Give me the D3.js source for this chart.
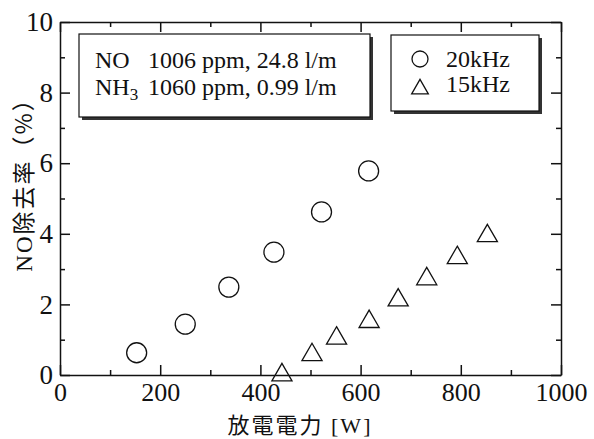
<!DOCTYPE html>
<html>
<head>
<meta charset="utf-8">
<script src="https://cdn.jsdelivr.net/npm/d3@7"></script>
<style>
  body { margin: 0; background: #fff; }
  svg { display: block; }
</style>
</head>
<body>
<div id="chart"></div>
<script>
(function() {

  // 20kHz series
  var power20 = [153, 250, 337, 427, 522, 616];
  var removal20 = [0.63, 1.44, 2.49, 3.48, 4.62, 5.78];
  // 15kHz series
  var power15 = [443, 503, 552, 617, 675, 732, 793, 853];
  var removal15 = [0.0, 0.57, 1.04, 1.51, 2.12, 2.72, 3.32, 3.94];

  var xTicks = [0, 200, 400, 600, 800, 1000];
  var yTicks = [0, 2, 4, 6, 8, 10];
  var xMinor = [100, 300, 500, 700, 900];
  var yMinor = [1, 3, 5, 7, 9];

  var serif = "Liberation Serif";
  var cjk = "Noto Sans CJK JP";
  var ink = "#111";

  var width = 594, height = 439;
  var pad = { top: 22, left: 60, right: 33, bottom: 64 };

  var svg = d3.select("#chart").append("svg")
    .attr("width", width)
    .attr("height", height);

  var x = d3.scaleLinear().domain([0, 1000]).range([pad.left, width - pad.right]);
  var y = d3.scaleLinear().domain([0, 10]).range([height - pad.bottom, pad.top]);

  var bottom = height - pad.bottom, right = width - pad.right;

  var styleAxis = function(g) {
    g.attr("font-family", serif).attr("font-size", 27);
    g.selectAll(".domain, .tick line").attr("stroke", ink).attr("stroke-width", 1.5);
    g.selectAll(".tick text").attr("fill", ink);
  };

  // main axes, ticks pointing inward
  svg.append("g")
    .attr("transform", "translate(0," + bottom + ")")
    .call(d3.axisBottom(x).tickValues(xTicks).tickFormat(d3.format("d"))
      .tickSizeInner(-10).tickSizeOuter(0).tickPadding(8))
    .call(styleAxis)
    .attr("font-size", 26);
  svg.append("g")
    .attr("transform", "translate(" + pad.left + ",0)")
    .call(d3.axisLeft(y).tickValues(yTicks).tickFormat(d3.format("d"))
      .tickSizeInner(-10).tickSizeOuter(0).tickPadding(7))
    .call(styleAxis);
  svg.append("g")
    .attr("transform", "translate(0," + pad.top + ")")
    .call(d3.axisTop(x).tickValues(xTicks).tickSizeInner(-10).tickSizeOuter(0).tickFormat(""))
    .call(styleAxis);
  svg.append("g")
    .attr("transform", "translate(" + right + ",0)")
    .call(d3.axisRight(y).tickValues(yTicks).tickSizeInner(-10).tickSizeOuter(0).tickFormat(""))
    .call(styleAxis);

  // minor ticks
  var minor = function(axis, tr) {
    var g = svg.append("g").attr("transform", tr)
      .call(axis.tickSizeInner(-5).tickSizeOuter(0).tickFormat(""))
      .call(styleAxis);
    g.select(".domain").remove();
  };
  minor(d3.axisBottom(x).tickValues(xMinor), "translate(0," + bottom + ")");
  minor(d3.axisTop(x).tickValues(xMinor), "translate(0," + pad.top + ")");
  minor(d3.axisLeft(y).tickValues(yMinor), "translate(" + pad.left + ",0)");
  minor(d3.axisRight(y).tickValues(yMinor), "translate(" + right + ",0)");

  // axis titles: Latin parts serif, Japanese parts from the CJK font
  var xt = svg.append("text")
    .attr("x", 300)
    .attr("y", 433)
    .attr("text-anchor", "middle")
    .attr("fill", ink)
    .attr("font-size", 22)
    .attr("letter-spacing", 2);
  xt.append("tspan").attr("font-family", cjk).text("放電電力");
  xt.append("tspan").attr("font-family", serif).text(" [W]");

  var yt = svg.append("text")
    .attr("transform", "translate(32,179) rotate(-90)")
    .attr("text-anchor", "middle")
    .attr("fill", ink)
    .attr("font-size", 23)
    .attr("letter-spacing", 2);
  yt.append("tspan").attr("font-family", serif).text("NO");
  yt.append("tspan").attr("font-family", cjk).text("除去率（%）");

  // data
  var pts20 = power20.map(function(p, i) { return [p, removal20[i]]; });
  var pts15 = power15.map(function(p, i) { return [p, removal15[i]]; });

  svg.append("g").selectAll("circle")
    .data(pts20).enter().append("circle")
    .attr("cx", function(d) { return x(d[0]); })
    .attr("cy", function(d) { return y(d[1]); })
    .attr("r", 10)
    .attr("fill", "none")
    .attr("stroke", ink)
    .attr("stroke-width", 1.3);

  var tri = d3.symbol().type(d3.symbolTriangle).size(175);
  svg.append("g").selectAll("path")
    .data(pts15).enter().append("path")
    .attr("transform", function(d) { return "translate(" + x(d[0]) + "," + y(d[1]) + ")"; })
    .attr("d", tri)
    .attr("fill", "none")
    .attr("stroke", ink)
    .attr("stroke-width", 1.3);

  // boxes with drop shadow
  var box = function(x0, y0, w, h) {
    svg.append("rect").attr("x", x0 + 3).attr("y", y0 + 3).attr("width", w).attr("height", h)
      .attr("fill", "#333");
    svg.append("rect").attr("x", x0).attr("y", y0).attr("width", w).attr("height", h)
      .attr("fill", "#fff").attr("stroke", ink).attr("stroke-width", 1.2);
  };
  box(79, 34, 291, 83);
  box(391, 35, 148, 76);

  var leg = svg.append("g")
    .attr("font-family", serif)
    .attr("font-size", 24)
    .attr("fill", ink);
  leg.append("text").attr("x", 95).attr("y", 68).text("NO");
  leg.append("text").attr("x", 148).attr("y", 68).text("1006 ppm, 24.8 l/m");
  var nh = leg.append("text").attr("x", 95).attr("y", 95);
  nh.append("tspan").text("NH");
  nh.append("tspan").attr("dy", 5).attr("font-size", 17).text("3");
  leg.append("text").attr("x", 148).attr("y", 95).text("1060 ppm, 0.99 l/m");

  leg.append("circle").attr("cx", 420).attr("cy", 59).attr("r", 8)
    .attr("fill", "none").attr("stroke", ink).attr("stroke-width", 1.3);
  leg.append("path").attr("transform", "translate(420,89)")
    .attr("d", d3.symbol().type(d3.symbolTriangle).size(120))
    .attr("fill", "none").attr("stroke", ink).attr("stroke-width", 1.3);
  leg.append("text").attr("x", 446).attr("y", 67).text("20kHz");
  leg.append("text").attr("x", 446).attr("y", 92).text("15kHz");

})();
</script>
</body>
</html>
